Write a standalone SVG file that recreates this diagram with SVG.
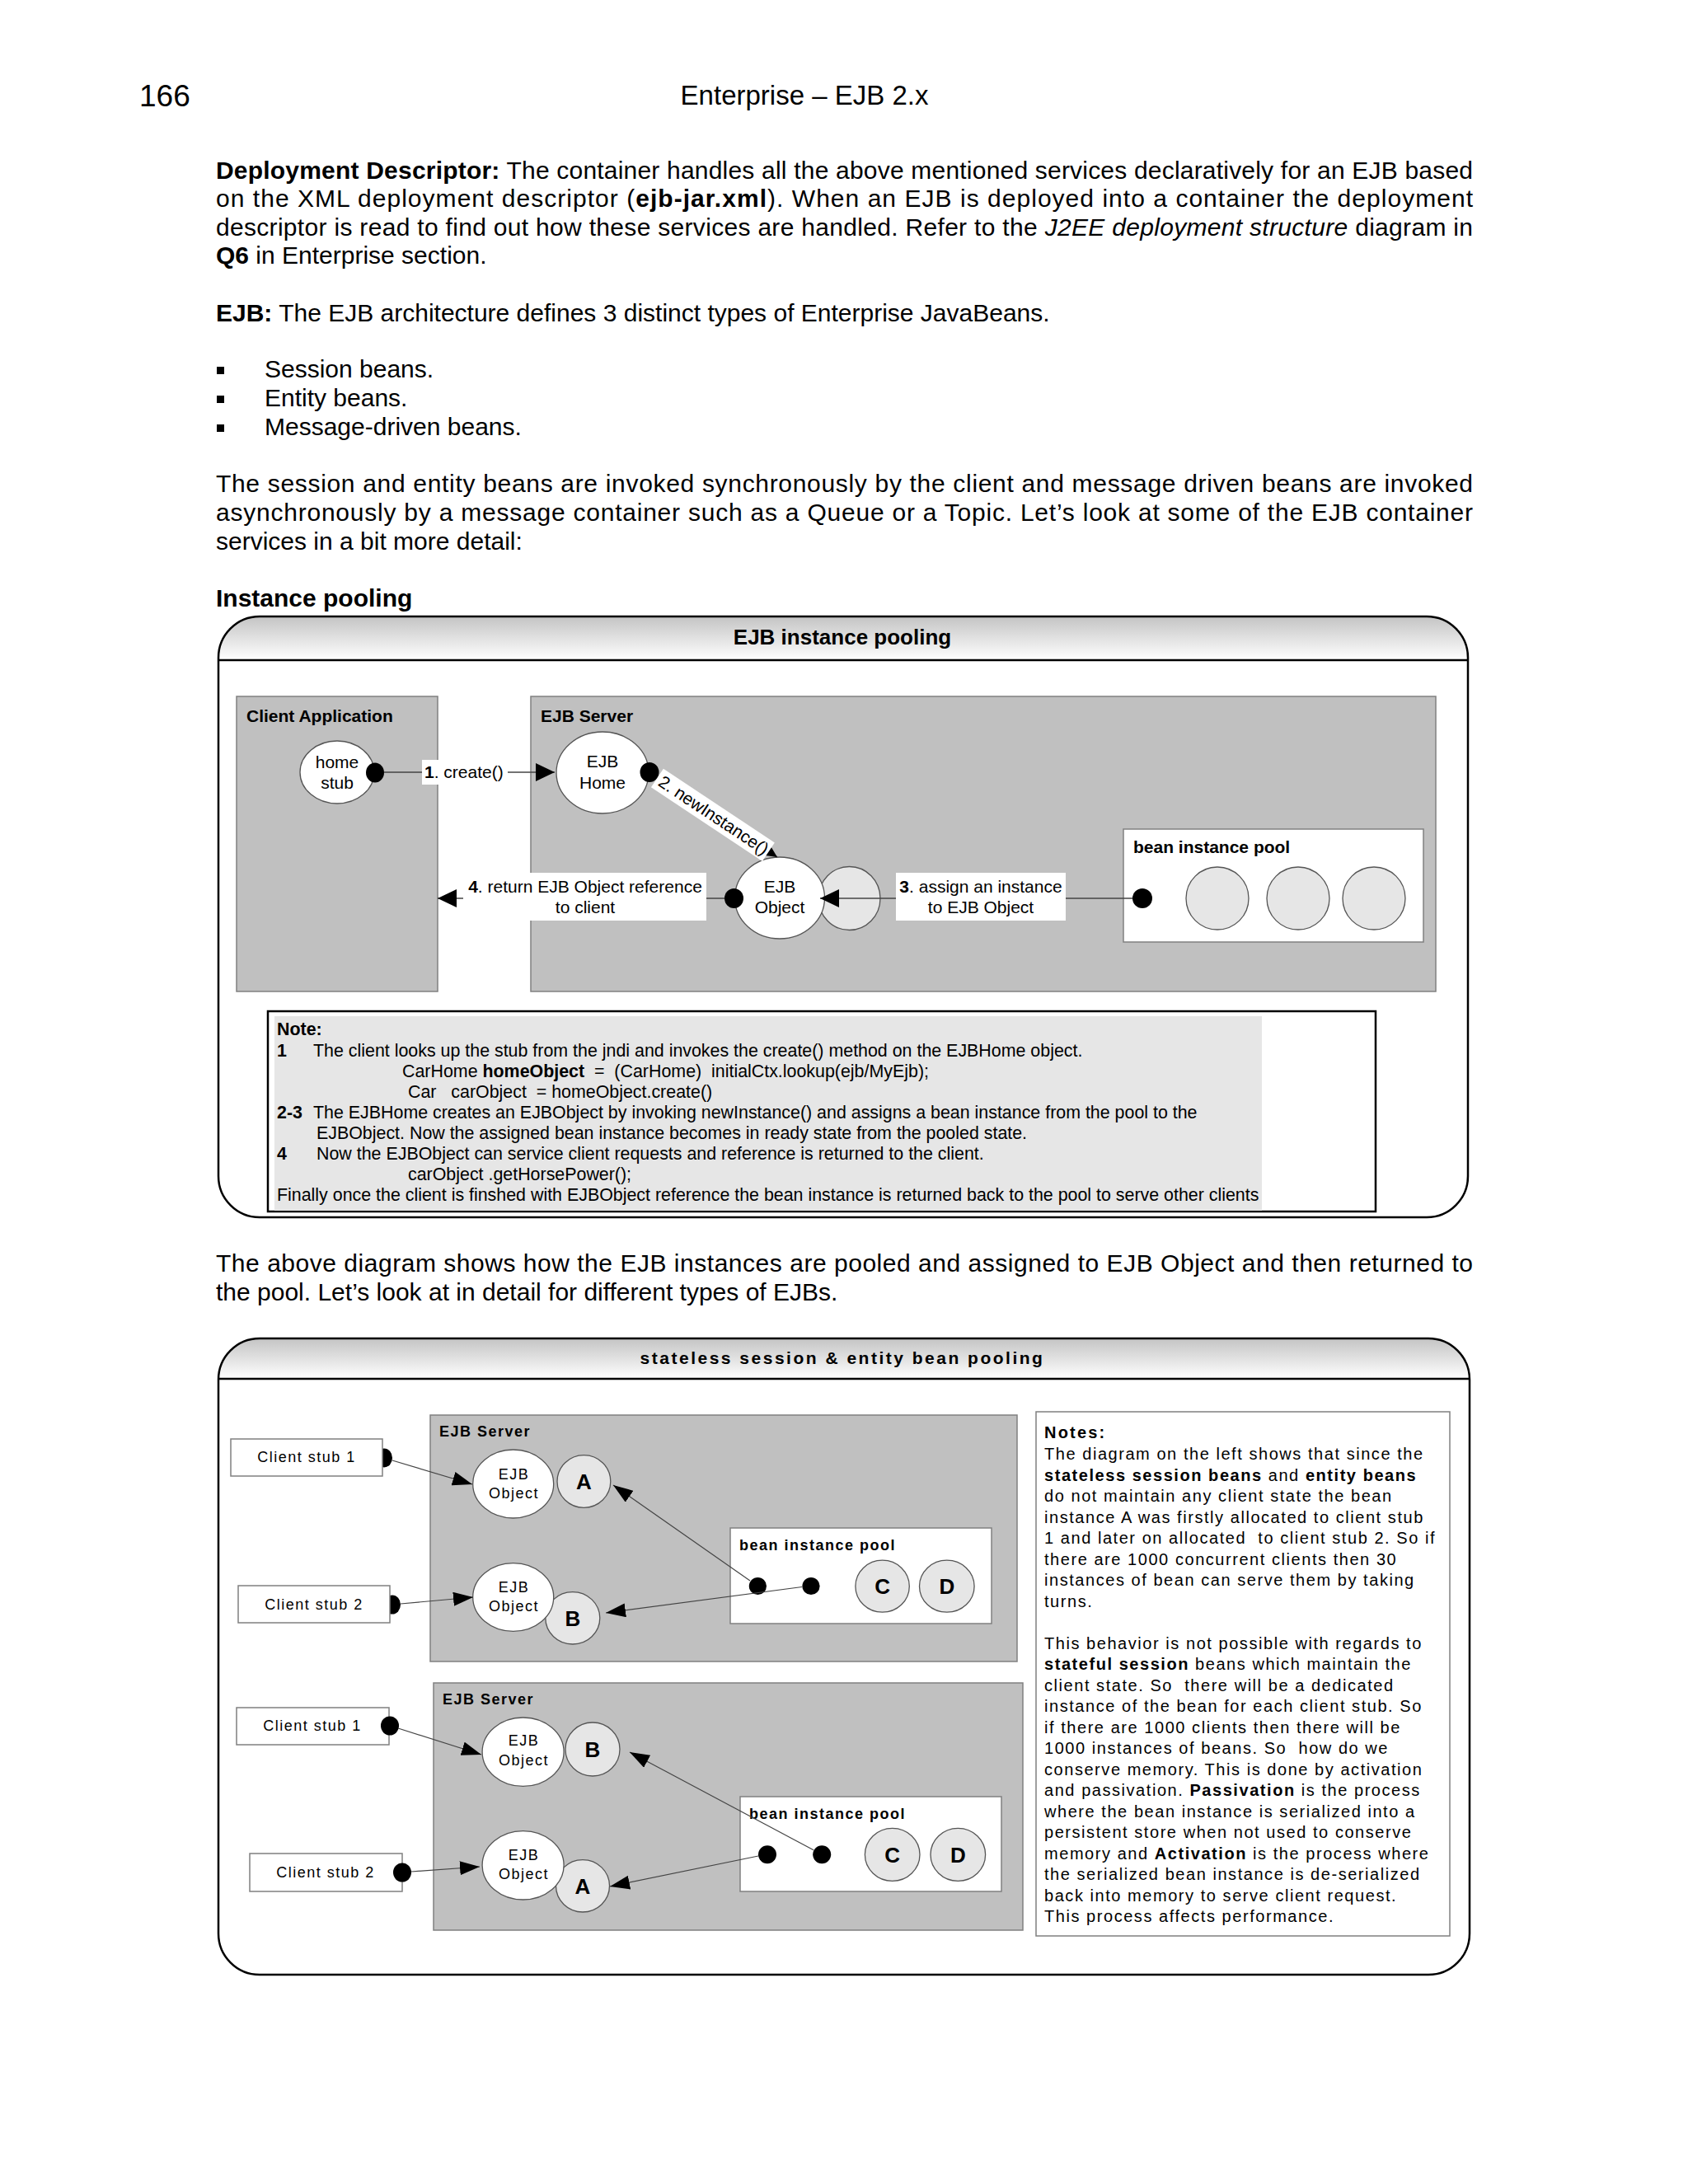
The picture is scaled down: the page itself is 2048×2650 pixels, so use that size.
<svg xmlns="http://www.w3.org/2000/svg" width="2048" height="2650" viewBox="0 0 2048 2650">
<defs>
<style>
text{font-family:"Liberation Sans",Arial,sans-serif;fill:#000}
.body{font-size:30px}
.b{font-weight:bold}
.i{font-style:italic}
.l1{font-size:21px}
.nt{font-size:21.4px}
.p2{font-size:18px;letter-spacing:1.5px}
.notes{font-size:20px;letter-spacing:1.55px}
.abcd{font-size:26px;font-weight:bold}
.gbox{fill:#c0c0c0;stroke:#808080;stroke-width:1.5}
.wbox{fill:#fff;stroke:#808080;stroke-width:1.5}
.wc{fill:#fff;stroke:#555;stroke-width:1.3}
.gc{fill:#e6e6e6;stroke:#555;stroke-width:1.3}
.dot{fill:#000}
.ln1{stroke:#444;stroke-width:1.6;fill:none}
.ln2{stroke:#444;stroke-width:1.2;fill:none}
.frame{fill:none;stroke:#000;stroke-width:2.5}
</style>
<linearGradient id="hdr" x1="0" y1="0" x2="0" y2="1">
<stop offset="0" stop-color="#c4c4c4"/>
<stop offset="1" stop-color="#ffffff"/>
</linearGradient>
<clipPath id="clip1"><rect x="265" y="748" width="1516" height="729" rx="50"/></clipPath>
<clipPath id="clip2"><rect x="265" y="1624" width="1518" height="772" rx="50"/></clipPath>
<marker id="arr1" markerUnits="userSpaceOnUse" viewBox="0 0 23 22" markerWidth="23" markerHeight="22" refX="23" refY="11" orient="auto">
<path d="M0,0 L23,11 L0,22 Z" fill="#000"/>
</marker>
<marker id="arr2" markerUnits="userSpaceOnUse" viewBox="0 0 24 17" markerWidth="24" markerHeight="17" refX="24" refY="8.5" orient="auto">
<path d="M0,0 L24,8.5 L0,17 Z" fill="#000"/>
</marker>
</defs>
<rect width="2048" height="2650" fill="#fff"/>

<g id="page-text">
<text x="169" y="129" style="font-size:37px">166</text>
<text x="976" y="127" text-anchor="middle" style="font-size:33px">Enterprise – EJB 2.x</text>

<text class="body" x="262" y="217" textLength="1525" lengthAdjust="spacing"><tspan class="b">Deployment Descriptor:</tspan> The container handles all the above mentioned services declaratively for an EJB based</text>
<text class="body" x="262" y="251" textLength="1525" lengthAdjust="spacing">on the XML deployment descriptor (<tspan class="b">ejb-jar.xml</tspan>). When an EJB is deployed into a container the deployment</text>
<text class="body" x="262" y="286" textLength="1525" lengthAdjust="spacing">descriptor is read to find out how these services are handled. Refer to the <tspan class="i">J2EE deployment structure</tspan> diagram in</text>
<text class="body" x="262" y="320"><tspan class="b">Q6</tspan> in Enterprise section.</text>

<text class="body" x="262" y="390"><tspan class="b">EJB:</tspan> The EJB architecture defines 3 distinct types of Enterprise JavaBeans.</text>
<rect x="263" y="445" width="9" height="9" fill="#000"/>
<text class="body" x="321" y="458">Session beans.</text>
<rect x="263" y="480" width="9" height="9" fill="#000"/>
<text class="body" x="321" y="493">Entity beans.</text>
<rect x="263" y="515" width="9" height="9" fill="#000"/>
<text class="body" x="321" y="528">Message-driven beans.</text>

<text class="body" x="262" y="597" textLength="1525" lengthAdjust="spacing">The session and entity beans are invoked synchronously by the client and message driven beans are invoked</text>
<text class="body" x="262" y="632" textLength="1525" lengthAdjust="spacing">asynchronously by a message container such as a Queue or a Topic. Let’s look at some of the EJB container</text>
<text class="body" x="262" y="667">services in a bit more detail:</text>

<text class="body b" x="262" y="736">Instance pooling</text>

<text class="body" x="262" y="1543" textLength="1525" lengthAdjust="spacing">The above diagram shows how the EJB instances are pooled and assigned to EJB Object and then returned to</text>
<text class="body" x="262" y="1578">the pool. Let’s look at in detail for different types of EJBs.</text>
</g>

<!-- ================= PANEL 1 ================= -->
<g id="panel1">
<rect x="265" y="748" width="1516" height="729" rx="50" fill="#fff"/>
<rect x="265" y="748" width="1516" height="53" fill="url(#hdr)" clip-path="url(#clip1)"/>
<line x1="265" y1="801" x2="1781" y2="801" stroke="#000" stroke-width="2.5"/>
<rect class="frame" x="265" y="748" width="1516" height="729" rx="50"/>
<text class="b" x="1022" y="782" text-anchor="middle" style="font-size:26px">EJB instance pooling</text>
</g>

<g id="client-application">
<rect class="gbox" x="287" y="845" width="244" height="358"/>
<text class="l1 b" x="299" y="876">Client Application</text>
</g>
<g id="ejb-server-1">
<rect class="gbox" x="644" y="845" width="1098" height="358"/>
<text class="l1 b" x="656" y="876">EJB Server</text>
</g>
<g id="bean-pool-1">
<rect class="wbox" x="1363" y="1006" width="364" height="137"/>
<text class="l1 b" x="1375" y="1035">bean instance pool</text>
<circle class="dot" cx="1386" cy="1090" r="12"/>
<ellipse class="gc" cx="1477" cy="1090" rx="38" ry="38"/>
<ellipse class="gc" cx="1575" cy="1090" rx="38" ry="38"/>
<ellipse class="gc" cx="1667" cy="1090" rx="38" ry="38"/>
</g>
<g id="home-stub">
<ellipse class="wc" cx="409" cy="937" rx="45" ry="38"/>
<text class="l1" x="409" y="932" text-anchor="middle">home</text>
<text class="l1" x="409" y="957" text-anchor="middle">stub</text>
<ellipse class="dot" cx="455" cy="937.5" rx="11" ry="12"/>
</g>
<g id="ejb-home">
<ellipse class="wc" cx="731" cy="937.5" rx="56" ry="49.5"/>
<text class="l1" x="731" y="931" text-anchor="middle">EJB</text>
<text class="l1" x="731" y="957" text-anchor="middle">Home</text>
<ellipse class="dot" cx="788" cy="937" rx="11.5" ry="12"/>
</g>
<g id="ejb-object-1">
<ellipse class="gc" cx="1030.5" cy="1090" rx="37.5" ry="38.5"/>
<ellipse class="wc" cx="946" cy="1089.5" rx="54.5" ry="49.5"/>
<text class="l1" x="946" y="1083" text-anchor="middle">EJB</text>
<text class="l1" x="946" y="1108" text-anchor="middle">Object</text>
<ellipse class="dot" cx="890.5" cy="1090" rx="11.5" ry="12"/>
</g>

<g id="connectors-1">
<line class="ln1" x1="466" y1="937" x2="673" y2="937" marker-end="url(#arr1)"/>
<rect x="512" y="922" width="104" height="30" fill="#fff"/>
<text class="l1" x="515" y="944"><tspan class="b">1</tspan>. create()</text>

<line class="ln1" x1="798" y1="943.6" x2="943" y2="1040" marker-end="url(#arr1)"/>
<g transform="translate(866,989) rotate(33.6)">
<rect x="-82" y="-13" width="162" height="27" fill="#fff"/>
<text class="l1" x="0" y="7.5" text-anchor="middle">2. newInstance()</text>
</g>

<line class="ln1" x1="1374" y1="1090" x2="995" y2="1090" marker-end="url(#arr1)"/>
<rect x="1087" y="1059" width="206" height="58" fill="#fff"/>
<text class="l1" x="1190" y="1083" text-anchor="middle"><tspan class="b">3</tspan>. assign an instance</text>
<text class="l1" x="1190" y="1108" text-anchor="middle">to EJB Object</text>

<line class="ln1" x1="879" y1="1090" x2="531" y2="1090" marker-end="url(#arr1)"/>
<rect x="562" y="1059" width="295" height="58" fill="#fff"/>
<text class="l1" x="710" y="1083" text-anchor="middle"><tspan class="b">4</tspan>. return EJB Object reference</text>
<text class="l1" x="710" y="1108" text-anchor="middle">to client</text>
</g>

<g id="note-1">
<rect x="325" y="1227" width="1344" height="243" fill="#fff" stroke="#000" stroke-width="2.5"/>
<rect x="333" y="1233" width="1198" height="236" fill="#e6e6e6"/>
<text class="nt b" x="336" y="1256">Note:</text>
<text class="nt b" x="336" y="1281.5">1</text>
<text class="nt" x="380" y="1281.5">The client looks up the stub from the jndi and invokes the create() method on the EJBHome object.</text>
<text class="nt" x="488" y="1306.5" xml:space="preserve">CarHome <tspan class="b">homeObject</tspan>  =  (CarHome)  initialCtx.lookup(ejb/MyEjb);</text>
<text class="nt" x="495" y="1332" xml:space="preserve">Car   carObject  = homeObject.create()</text>
<text class="nt b" x="336" y="1357">2-3</text>
<text class="nt" x="380" y="1357">The EJBHome creates an EJBObject by invoking newInstance() and assigns a bean instance from the pool to the</text>
<text class="nt" x="384" y="1382">EJBObject. Now the assigned bean instance becomes in ready state from the pooled state.</text>
<text class="nt b" x="336" y="1407">4</text>
<text class="nt" x="384" y="1407">Now the EJBObject can service client requests and reference is returned to the client.</text>
<text class="nt" x="495" y="1432">carObject .getHorsePower();</text>
<text class="nt" x="336" y="1457">Finally once the client is finshed with EJBObject reference the bean instance is returned back to the pool to serve other clients</text>
</g>

<!-- ================= PANEL 2 ================= -->
<g id="panel2">
<rect x="265" y="1624" width="1518" height="772" rx="50" fill="#fff"/>
<rect x="265" y="1624" width="1518" height="49" fill="url(#hdr)" clip-path="url(#clip2)"/>
<line x1="265" y1="1673" x2="1783" y2="1673" stroke="#000" stroke-width="2.5"/>
<rect class="frame" x="265" y="1624" width="1518" height="772" rx="50"/>
<text class="b" x="1022" y="1655" text-anchor="middle" style="font-size:21px;letter-spacing:2.5px">stateless session &amp; entity bean pooling</text>
</g>

<g id="ejb-server-2a">
<rect class="gbox" x="522" y="1717" width="712" height="299"/>
<text class="p2 b" x="533" y="1743">EJB Server</text>
</g>
<g id="ejb-server-2b">
<rect class="gbox" x="526" y="2042" width="715" height="300"/>
<text class="p2 b" x="537" y="2068">EJB Server</text>
</g>

<g id="client-stub-1a">
<ellipse class="dot" cx="466" cy="1769" rx="10" ry="11.5"/>
<rect class="wbox" x="280" y="1746" width="184" height="45"/>
<text class="p2" x="372" y="1774" text-anchor="middle">Client stub 1</text>
</g>
<g id="client-stub-2a">
<ellipse class="dot" cx="476" cy="1947" rx="10" ry="11.5"/>
<rect class="wbox" x="289" y="1924" width="184" height="45"/>
<text class="p2" x="381" y="1953" text-anchor="middle">Client stub 2</text>
</g>
<g id="ejb-object-2a1">
<ellipse class="gc" cx="708.4" cy="1797.5" rx="32.4" ry="31.8"/>
<text class="abcd" x="708.4" y="1807" text-anchor="middle">A</text>
<ellipse class="wc" cx="622.7" cy="1800.5" rx="49" ry="41.5"/>
<text class="p2" x="623.5" y="1795" text-anchor="middle">EJB</text>
<text class="p2" x="623.5" y="1818" text-anchor="middle">Object</text>
</g>
<g id="ejb-object-2a2">
<ellipse class="gc" cx="694.8" cy="1963.3" rx="33" ry="31.7"/>
<text class="abcd" x="694.8" y="1973" text-anchor="middle">B</text>
<ellipse class="wc" cx="622.7" cy="1938" rx="49" ry="41.3"/>
<text class="p2" x="623.5" y="1932" text-anchor="middle">EJB</text>
<text class="p2" x="623.5" y="1955" text-anchor="middle">Object</text>
</g>
<g id="bean-pool-2a">
<rect class="wbox" x="886" y="1854" width="317" height="116"/>
<text class="p2 b" x="897" y="1881">bean instance pool</text>
<circle class="dot" cx="919.4" cy="1924.5" r="10.6"/>
<circle class="dot" cx="984" cy="1924.5" r="10.6"/>
<ellipse class="gc" cx="1070.6" cy="1924.7" rx="32.7" ry="31.5"/>
<text class="abcd" x="1070.6" y="1934" text-anchor="middle">C</text>
<ellipse class="gc" cx="1148.8" cy="1924.7" rx="33.3" ry="31.5"/>
<text class="abcd" x="1148.8" y="1934" text-anchor="middle">D</text>
</g>

<g id="client-stub-1b">
<rect class="wbox" x="287" y="2072" width="185" height="45"/>
<text class="p2" x="379" y="2100" text-anchor="middle">Client stub 1</text>
<ellipse class="dot" cx="473" cy="2094" rx="11" ry="11.5"/>
</g>
<g id="client-stub-2b">
<rect class="wbox" x="303" y="2249" width="185" height="46"/>
<text class="p2" x="395" y="2278" text-anchor="middle">Client stub 2</text>
<ellipse class="dot" cx="488" cy="2272" rx="11" ry="11.5"/>
</g>
<g id="ejb-object-2b1">
<ellipse class="gc" cx="719" cy="2122.5" rx="33" ry="32.5"/>
<text class="abcd" x="719" y="2132" text-anchor="middle">B</text>
<ellipse class="wc" cx="634.6" cy="2125.7" rx="49.5" ry="41.7"/>
<text class="p2" x="635.5" y="2118" text-anchor="middle">EJB</text>
<text class="p2" x="635.5" y="2141.5" text-anchor="middle">Object</text>
</g>
<g id="ejb-object-2b2">
<ellipse class="gc" cx="707" cy="2288.3" rx="32.5" ry="31.7"/>
<text class="abcd" x="707" y="2298" text-anchor="middle">A</text>
<ellipse class="wc" cx="634.6" cy="2263.3" rx="49.5" ry="41.7"/>
<text class="p2" x="635.5" y="2257" text-anchor="middle">EJB</text>
<text class="p2" x="635.5" y="2280" text-anchor="middle">Object</text>
</g>
<g id="bean-pool-2b">
<rect class="wbox" x="898" y="2180" width="317" height="115"/>
<text class="p2 b" x="909" y="2207">bean instance pool</text>
<circle class="dot" cx="931" cy="2250.3" r="11"/>
<circle class="dot" cx="997.2" cy="2250.3" r="11"/>
<ellipse class="gc" cx="1082.7" cy="2250.3" rx="33.3" ry="32"/>
<text class="abcd" x="1082.7" y="2259.5" text-anchor="middle">C</text>
<ellipse class="gc" cx="1162.3" cy="2250.3" rx="33.3" ry="32"/>
<text class="abcd" x="1162.3" y="2259.5" text-anchor="middle">D</text>
</g>

<g id="connectors-2">
<line class="ln2" x1="476" y1="1772" x2="573" y2="1801" marker-end="url(#arr2)"/>
<line class="ln2" x1="486" y1="1946" x2="574" y2="1938" marker-end="url(#arr2)"/>
<line class="ln2" x1="910" y1="1918" x2="744" y2="1802" marker-end="url(#arr2)"/>
<line class="ln2" x1="973" y1="1925.5" x2="735" y2="1957" marker-end="url(#arr2)"/>
<line class="ln2" x1="483" y1="2097" x2="584" y2="2129" marker-end="url(#arr2)"/>
<line class="ln2" x1="499" y1="2271" x2="582" y2="2265" marker-end="url(#arr2)"/>
<line class="ln2" x1="920" y1="2252" x2="740" y2="2289" marker-end="url(#arr2)"/>
<line class="ln2" x1="987" y1="2244.7" x2="764" y2="2126" marker-end="url(#arr2)"/>
</g>

<g id="notes-2">
<rect x="1257" y="1713" width="502" height="636" fill="#fff" stroke="#808080" stroke-width="1.5"/>
<text class="notes b" x="1267" y="1745" style="letter-spacing:2.2px">Notes:</text>
<text class="notes" x="1267" y="1771">The diagram on the left shows that since the</text>
<text class="notes" x="1267" y="1796.5"><tspan class="b">stateless session beans</tspan> and <tspan class="b">entity beans</tspan></text>
<text class="notes" x="1267" y="1822">do not maintain any client state the bean</text>
<text class="notes" x="1267" y="1847.5">instance A was firstly allocated to client stub</text>
<text class="notes" x="1267" y="1873" xml:space="preserve">1 and later on allocated  to client stub 2. So if</text>
<text class="notes" x="1267" y="1898.5">there are 1000 concurrent clients then 30</text>
<text class="notes" x="1267" y="1924">instances of bean can serve them by taking</text>
<text class="notes" x="1267" y="1949.5">turns.</text>
<text class="notes" x="1267" y="2000.5">This behavior is not possible with regards to</text>
<text class="notes" x="1267" y="2026"><tspan class="b">stateful session</tspan> beans which maintain the</text>
<text class="notes" x="1267" y="2051.5" xml:space="preserve">client state. So  there will be a dedicated</text>
<text class="notes" x="1267" y="2077">instance of the bean for each client stub. So</text>
<text class="notes" x="1267" y="2102.5">if there are 1000 clients then there will be</text>
<text class="notes" x="1267" y="2128" xml:space="preserve">1000 instances of beans. So  how do we</text>
<text class="notes" x="1267" y="2153.5">conserve memory. This is done by activation</text>
<text class="notes" x="1267" y="2179">and passivation. <tspan class="b">Passivation</tspan> is the process</text>
<text class="notes" x="1267" y="2204.5">where the bean instance is serialized into a</text>
<text class="notes" x="1267" y="2230">persistent store when not used to conserve</text>
<text class="notes" x="1267" y="2255.5">memory and <tspan class="b">Activation</tspan> is the process where</text>
<text class="notes" x="1267" y="2281">the serialized bean instance is de-serialized</text>
<text class="notes" x="1267" y="2306.5">back into memory to serve client request.</text>
<text class="notes" x="1267" y="2332">This process affects performance.</text>
</g>
</svg>
